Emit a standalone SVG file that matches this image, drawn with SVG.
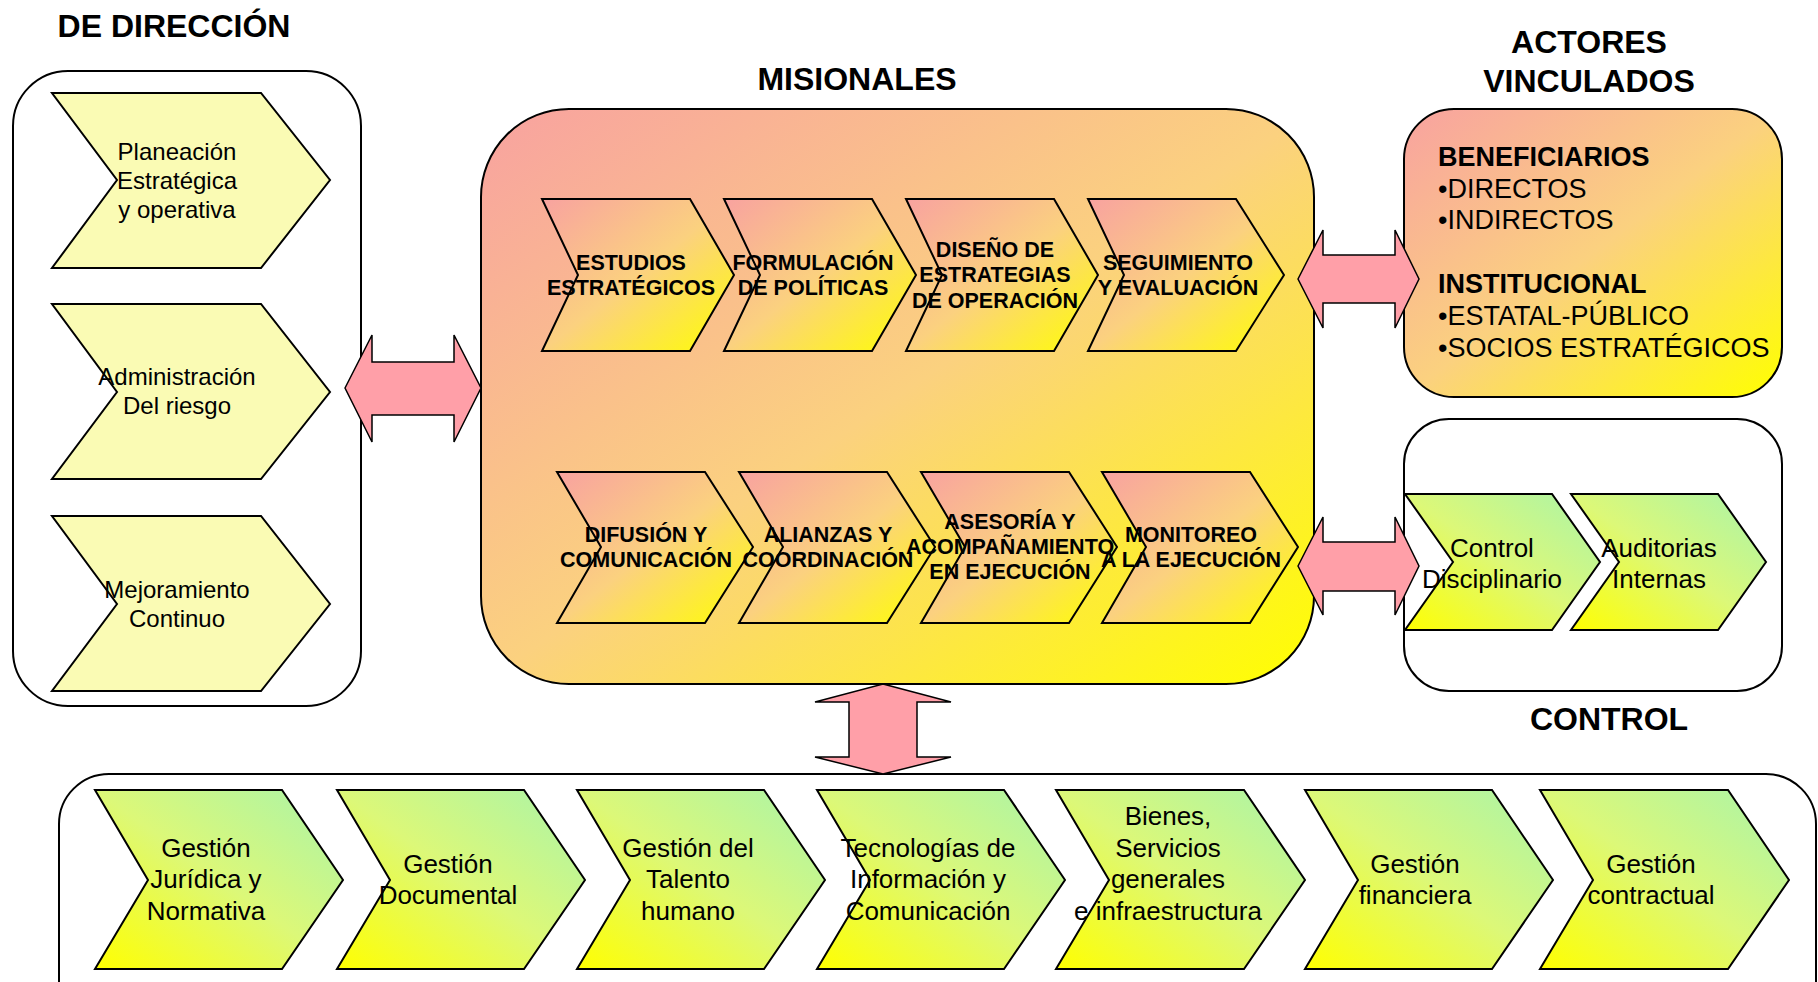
<svg xmlns="http://www.w3.org/2000/svg" width="1818" height="982" viewBox="0 0 1818 982">
<defs>
<linearGradient id="gPY" x1="0" y1="0" x2="1" y2="1">
<stop offset="0" stop-color="#F8A2A0"/>
<stop offset="0.5" stop-color="#FBD17F"/>
<stop offset="1" stop-color="#FFFF00"/>
</linearGradient>
<linearGradient id="gYG" x1="0" y1="1" x2="1" y2="0">
<stop offset="0" stop-color="#FFFF00"/>
<stop offset="0.5" stop-color="#DCF878"/>
<stop offset="1" stop-color="#A9F4AA"/>
</linearGradient>
<style>
text{font-family:"Liberation Sans",Arial,Helvetica,sans-serif;fill:#000}
.title{font-size:32px;font-weight:bold;text-anchor:middle}
.box{fill:#fff;stroke:#000;stroke-width:2}
.boxg{fill:url(#gPY);stroke:#000;stroke-width:2}
.chy{fill:#FAFBB4;stroke:#000;stroke-width:2;stroke-linejoin:miter}
.chp{fill:url(#gPY);stroke:#000;stroke-width:2}
.chg{fill:url(#gYG);stroke:#000;stroke-width:2}
.arr{fill:#FF9FA8;stroke:#000;stroke-width:1.5}
.t24{font-size:24px;text-anchor:middle}
.t26{font-size:26px;text-anchor:middle}
.tb{font-size:21.5px;font-weight:bold;text-anchor:middle}
.ta{font-size:27px}
.tab{font-size:27px;font-weight:bold}
</style>
</defs>

<g id="titles">
<text class="title" x="174" y="37">DE DIRECCIÓN</text>
<text class="title" x="857" y="90">MISIONALES</text>
<text class="title" x="1589" y="53">ACTORES</text>
<text class="title" x="1589" y="92">VINCULADOS</text>
<text class="title" x="1609" y="730">CONTROL</text>
</g>

<g id="direccion">
<rect class="box" x="13" y="71" width="348" height="635" rx="55"/>
<g id="planeacion">
<path class="chy" d="M52,93 L261,93 L330,180 L261,268 L52,268 L117,180 Z"/>
<text class="t24" x="177" y="160">Planeación</text>
<text class="t24" x="177" y="189">Estratégica</text>
<text class="t24" x="177" y="218">y operativa</text>
</g>
<g id="riesgo">
<path class="chy" d="M52,304 L261,304 L330,392 L261,479 L52,479 L117,392 Z"/>
<text class="t24" x="177" y="385">Administración</text>
<text class="t24" x="177" y="414">Del riesgo</text>
</g>
<g id="mejoramiento">
<path class="chy" d="M52,516 L261,516 L330,604 L261,691 L52,691 L117,604 Z"/>
<text class="t24" x="177" y="598">Mejoramiento</text>
<text class="t24" x="177" y="627">Continuo</text>
</g>
</g>

<g id="misionales">
<rect class="boxg" x="481" y="109" width="833" height="575" rx="88"/>
<g id="estudios">
<path class="chp" d="M542,199 H690 L734,275 L690,351 H542 L578,275 Z"/>
<text class="tb" x="631" y="270">ESTUDIOS</text>
<text class="tb" x="631" y="295">ESTRATÉGICOS</text>
</g>
<g id="formulacion">
<path class="chp" d="M724,199 H872 L916,275 L872,351 H724 L760,275 Z"/>
<text class="tb" x="813" y="270">FORMULACIÓN</text>
<text class="tb" x="813" y="295">DE POLÍTICAS</text>
</g>
<g id="diseno">
<path class="chp" d="M906,199 H1054 L1098,275 L1054,351 H906 L942,275 Z"/>
<text class="tb" x="995" y="257">DISEÑO DE</text>
<text class="tb" x="995" y="282">ESTRATEGIAS</text>
<text class="tb" x="995" y="308">DE OPERACIÓN</text>
</g>
<g id="seguimiento">
<path class="chp" d="M1088,199 H1236 L1284,275 L1236,351 H1088 L1124,275 Z"/>
<text class="tb" x="1178" y="270">SEGUIMIENTO</text>
<text class="tb" x="1178" y="295">Y EVALUACIÓN</text>
</g>
<g id="difusion">
<path class="chp" d="M557,472 H705 L753,547 L705,623 H557 L601,547 Z"/>
<text class="tb" x="646" y="542">DIFUSIÓN Y</text>
<text class="tb" x="646" y="567">COMUNICACIÓN</text>
</g>
<g id="alianzas">
<path class="chp" d="M739,472 H887 L935,547 L887,623 H739 L783,547 Z"/>
<text class="tb" x="828" y="542">ALIANZAS Y</text>
<text class="tb" x="828" y="567">COORDINACIÓN</text>
</g>
<g id="asesoria">
<path class="chp" d="M921,472 H1069 L1117,547 L1069,623 H921 L965,547 Z"/>
<text class="tb" x="1010" y="529">ASESORÍA Y</text>
<text class="tb" x="1010" y="554">ACOMPAÑAMIENTO</text>
<text class="tb" x="1010" y="579">EN EJECUCIÓN</text>
</g>
<g id="monitoreo">
<path class="chp" d="M1102,472 H1250 L1298,547 L1250,623 H1102 L1146,547 Z"/>
<text class="tb" x="1191" y="542">MONITOREO</text>
<text class="tb" x="1191" y="567">A LA EJECUCIÓN</text>
</g>
</g>

<g id="actores">
<rect class="boxg" x="1404" y="109" width="378" height="288" rx="50"/>
<text class="tab" x="1438" y="166">BENEFICIARIOS</text>
<text class="ta" x="1438" y="198">•DIRECTOS</text>
<text class="ta" x="1438" y="229">•INDIRECTOS</text>
<text class="tab" x="1438" y="293">INSTITUCIONAL</text>
<text class="ta" x="1438" y="325">•ESTATAL-PÚBLICO</text>
<text class="ta" x="1438" y="357">•SOCIOS ESTRATÉGICOS</text>
</g>

<g id="control">
<rect class="box" x="1404" y="419" width="378" height="272" rx="45"/>
<g id="disciplinario">
<path class="chg" d="M1405,494 H1552 L1600,562 L1552,630 H1405 L1453,562 Z"/>
<text class="t26" x="1492" y="557">Control</text>
<text class="t26" x="1492" y="588">Disciplinario</text>
</g>
<g id="auditorias">
<path class="chg" d="M1571,494 H1718 L1766,562 L1718,630 H1571 L1619,562 Z"/>
<text class="t26" x="1659" y="557">Auditorias</text>
<text class="t26" x="1659" y="588">Internas</text>
</g>
</g>

<g id="apoyo">
<rect class="box" x="59" y="774" width="1757" height="260" rx="50"/>
<g id="juridica">
<path class="chg" d="M95,790 H282 L343,880 L282,969 H95 L148,880 Z"/>
<text class="t26" x="206" y="857">Gestión</text>
<text class="t26" x="206" y="888">Jurídica y</text>
<text class="t26" x="206" y="920">Normativa</text>
</g>
<g id="documental">
<path class="chg" d="M337,790 H524 L585,880 L524,969 H337 L390,880 Z"/>
<text class="t26" x="448" y="873">Gestión</text>
<text class="t26" x="448" y="904">Documental</text>
</g>
<g id="talento">
<path class="chg" d="M577,790 H764 L825,880 L764,969 H577 L630,880 Z"/>
<text class="t26" x="688" y="857">Gestión del</text>
<text class="t26" x="688" y="888">Talento</text>
<text class="t26" x="688" y="920">humano</text>
</g>
<g id="tecnologias">
<path class="chg" d="M817,790 H1004 L1065,880 L1004,969 H817 L870,880 Z"/>
<text class="t26" x="928" y="857">Tecnologías de</text>
<text class="t26" x="928" y="888">Información y</text>
<text class="t26" x="928" y="920">Comunicación</text>
</g>
<g id="bienes">
<path class="chg" d="M1056,790 H1244 L1305,880 L1244,969 H1056 L1109,880 Z"/>
<text class="t26" x="1168" y="825">Bienes,</text>
<text class="t26" x="1168" y="857">Servicios</text>
<text class="t26" x="1168" y="888">generales</text>
<text class="t26" x="1168" y="920">e infraestructura</text>
</g>
<g id="financiera">
<path class="chg" d="M1305,790 H1492 L1553,880 L1492,969 H1305 L1358,880 Z"/>
<text class="t26" x="1415" y="873">Gestión</text>
<text class="t26" x="1415" y="904">financiera</text>
</g>
<g id="contractual">
<path class="chg" d="M1540,790 H1728 L1789,880 L1728,969 H1540 L1593,880 Z"/>
<text class="t26" x="1651" y="873">Gestión</text>
<text class="t26" x="1651" y="904">contractual</text>
</g>
</g>

<g id="connectors">
<polygon class="arr" points="345,388 372,335 372,362 454,362 454,335 481,388 454,442 454,415 372,415 372,442"/>
<polygon class="arr" points="1298,279 1323,230 1323,255 1395,255 1395,230 1419,279 1395,328 1395,303 1323,303 1323,328"/>
<polygon class="arr" points="1298,566 1323,517 1323,542 1395,542 1395,517 1419,566 1395,615 1395,591 1323,591 1323,615"/>
<polygon class="arr" points="883,684 951,702 917,702 917,757 951,757 883,774 815,757 849,757 849,702 815,702"/>
</g>
</svg>
